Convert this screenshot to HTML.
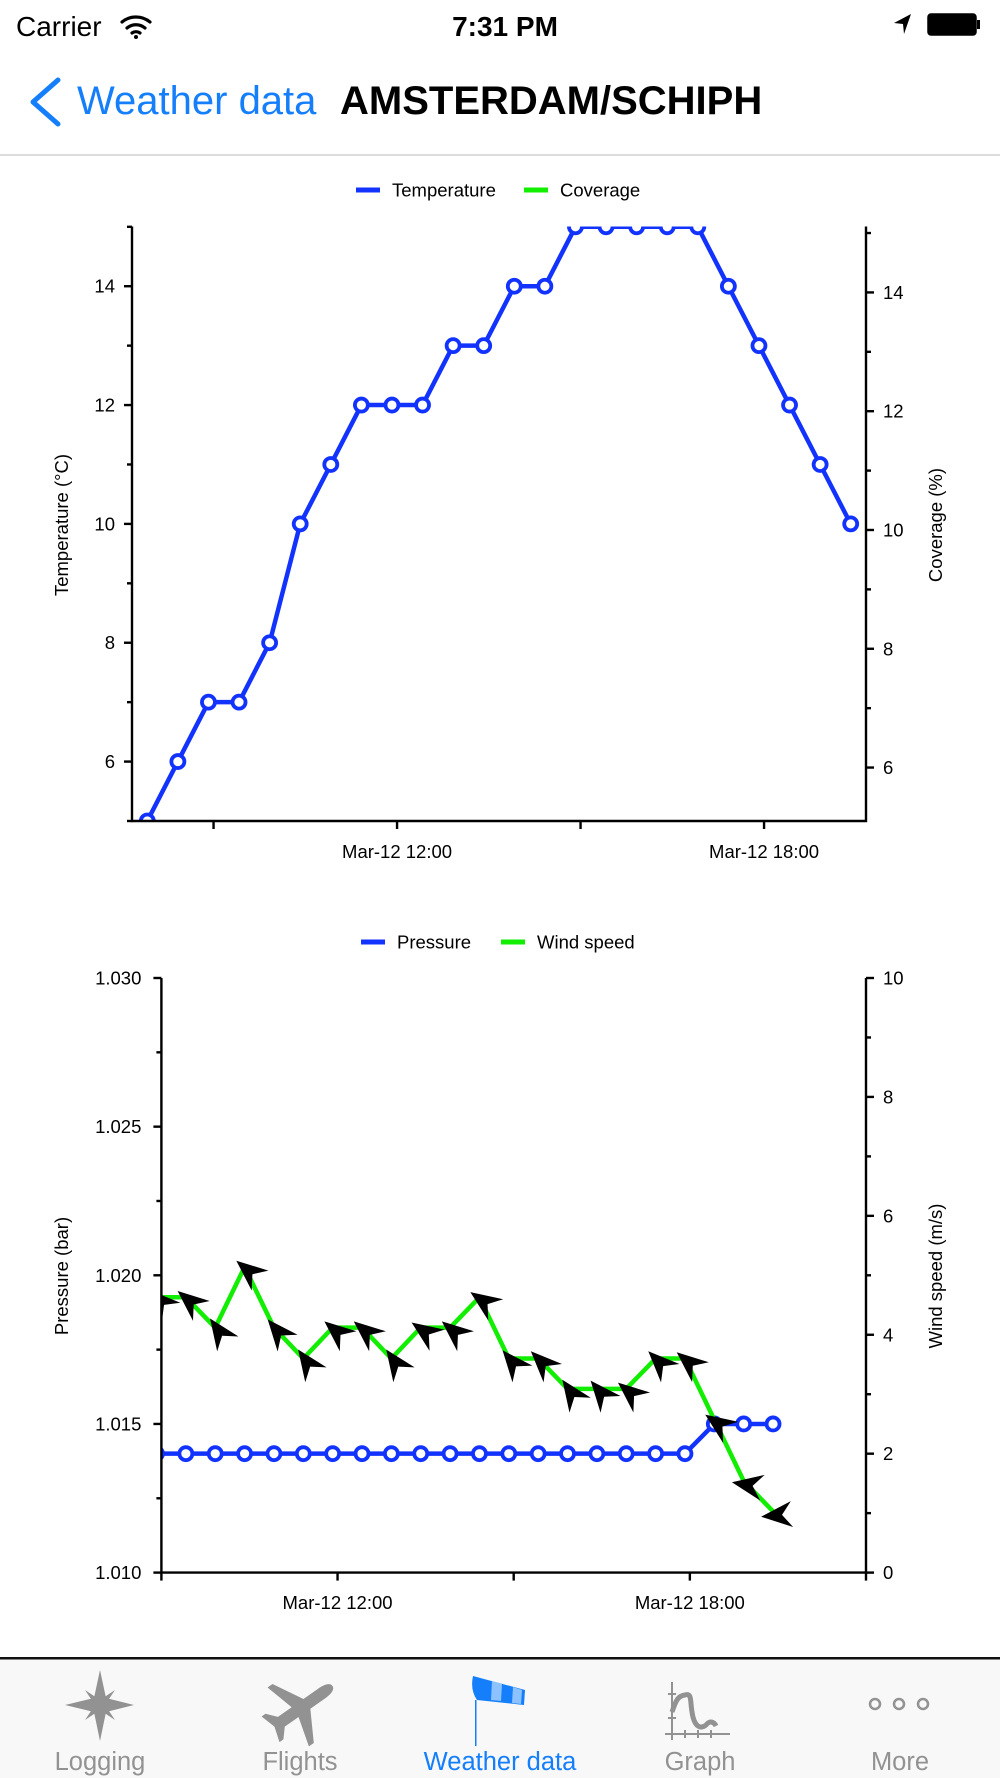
<!DOCTYPE html>
<html><head><meta charset="utf-8">
<style>
html,body{margin:0;padding:0;background:#fff;}
svg{display:block;font-family:"Liberation Sans",sans-serif;}
</style></head>
<body>
<svg id="root" width="1000" height="1778" viewBox="0 0 1000 1778" xmlns="http://www.w3.org/2000/svg">
  <!-- status bar -->
  <g>
    <text x="16" y="36" font-size="28" fill="#000">Carrier</text>
    <g fill="none" stroke="#000" stroke-width="3.2" stroke-linecap="round">
      <path d="M122 22 A22 22 0 0 1 150 22"/>
      <path d="M127 28 A14 14 0 0 1 145 28"/>
      <path d="M132 33 A7 7 0 0 1 140 33"/>
      <circle cx="136" cy="37" r="2" fill="#000" stroke="none"/>
    </g>
    <text x="505" y="36" font-size="28" font-weight="bold" text-anchor="middle" fill="#000">7:31 PM</text>
    <path d="M911 14 L894 23 L903 24 L904 34 Z" fill="#000"/>
    <g>
      <rect x="928" y="14" width="48" height="21" rx="3" fill="#000" stroke="#000" stroke-width="1.5"/>
      <rect x="977" y="20" width="3" height="9" fill="#000"/>
    </g>
  </g>
  <!-- nav bar -->
  <g>
    <path d="M58 80 L33 102 L58 124" fill="none" stroke="#147efb" stroke-width="5" stroke-linecap="round" stroke-linejoin="round"/>
    <text x="77" y="114" font-size="40" fill="#147efb">Weather data</text>
    <text x="340" y="114" font-size="40" font-weight="bold" fill="#000">AMSTERDAM/SCHIPH</text>
    <rect x="0" y="154" width="1000" height="2" fill="#dcdcdc"/>
  </g>
  <g id="chart1"></g>
  <g id="chart2"></g>
  <!-- tab bar -->
  <g>
    <rect x="0" y="1658" width="1000" height="120" fill="#f8f8f8"/>
    <rect x="0" y="1657" width="1000" height="2.5" fill="#111"/>
    <g>
      <path d="M100 1670 L106 1698 L134 1705 L106 1712 L100 1741 L94 1712 L65 1705 L94 1698 Z" fill="#929292"/>
      <path d="M85 1690 L100 1700 L115 1690 L105 1705 L115 1720 L100 1710 L85 1720 L95 1705 Z" fill="#929292"/>
      <text x="100" y="1770" font-size="25.5" text-anchor="middle" fill="#929292">Logging</text>
    </g>
    <g>
      <path d="M0 -32 C4 -32 5 -26 5 -20 L5 -6 L30 8 L30 13 L5 6 L5 20 L13 27 L13 31 L0 27 L-13 31 L-13 27 L-5 20 L-5 6 L-30 13 L-30 8 L-5 -6 L-5 -20 C-5 -26 -4 -32 0 -32 Z" fill="#929292" transform="translate(301 1708) rotate(55) scale(1.2)"/>
      <text x="300" y="1770" font-size="25.5" text-anchor="middle" fill="#929292">Flights</text>
    </g>
    <g>
      <path d="M473 1676 L525 1690 L524 1705 L477 1700 Q470 1690 473 1676 Z" fill="#147efb"/>
      <path d="M492 1681 L502 1684 L501 1701 L491 1700 Z" fill="#8cc2ff"/>
      <path d="M513 1687 L522 1690 L521 1704 L512 1703 Z" fill="#8cc2ff"/>
      <rect x="475" y="1700" width="1.5" height="46" fill="#147efb"/>
      <text x="500" y="1770" font-size="25.5" text-anchor="middle" fill="#147efb">Weather data</text>
    </g>
    <g fill="none" stroke="#929292">
      <path d="M672 1682 V1740 M665 1734 H730 M685 1730 V1738 M698 1730 V1738 M711 1730 V1738 M668 1694 H676 M668 1718 H676" stroke-width="2"/>
      <path d="M672 1712 C676 1700 678 1696 685 1695 C692 1693 690 1700 692 1712 C694 1726 700 1730 706 1725 C710 1720 714 1722 716 1726" stroke-width="5"/>
      <text x="700" y="1770" font-size="25.5" text-anchor="middle" fill="#929292" stroke="none">Graph</text>
    </g>
    <g>
      <circle cx="875" cy="1704" r="5" fill="none" stroke="#929292" stroke-width="2.5"/>
      <circle cx="899" cy="1704" r="5" fill="none" stroke="#929292" stroke-width="2.5"/>
      <circle cx="923" cy="1704" r="5" fill="none" stroke="#929292" stroke-width="2.5"/>
      <text x="900" y="1770" font-size="25.5" text-anchor="middle" fill="#929292">More</text>
    </g>
  </g>
</svg>
<script>
// ---- Chart 1 data ----
const tempTimes = ["07:55","08:25","08:55","09:25","09:55","10:25","10:55","11:25","11:55","12:25","12:55","13:25","13:55","14:25","14:55","15:25","15:55","16:25","16:55","17:25","17:55","18:25","18:55","19:25"];
const tempValues = [5,6,7,7,8,10,11,12,12,12,13,13,14,14,15,15,15,15,15,14,13,12,11,10];
const coverageValues = [];
const tempTickLabels = ["6","8","10","12","14"];
const coverageTickLabels = ["6","8","10","12","14"];
const chart1XTicks = ["09:00","12:00","15:00","18:00"];
const chart1XLabels = ["","Mar-12 12:00","","Mar-12 18:00"];
// ---- Chart 2 data ----
const windTimes = ["08:55","09:25","09:55","10:25","10:55","11:25","11:55","12:25","12:55","13:25","13:55","14:25","14:55","15:25","15:55","16:25","16:55","17:25","17:55","18:25","18:55","19:25"];
const pressureValues = [1.014,1.014,1.014,1.014,1.014,1.014,1.014,1.014,1.014,1.014,1.014,1.014,1.014,1.014,1.014,1.014,1.014,1.014,1.014,1.015,1.015,1.015];
const windSpeedValues = [4.63,4.63,4.12,5.14,4.12,3.60,4.12,4.12,3.60,4.12,4.12,4.63,3.60,3.60,3.09,3.09,3.09,3.60,3.60,2.57,1.54,1.03];
const windDirValues = [225,220,235,220,230,235,220,220,235,215,220,215,230,225,235,230,220,225,220,215,190,175];
const pressureTickLabels = ["1.010","1.015","1.020","1.025","1.030"];
const windTickLabels = ["0","2","4","6","8","10"];
const chart2XTicks = ["09:00","12:00","15:00","18:00","21:00"];
const chart2XLabels = ["","Mar-12 12:00","","Mar-12 18:00",""];

const NS = "http://www.w3.org/2000/svg";
const BLUE = "#1233ff", GREEN = "#11ee00";
function mk(tag, attrs, parent){ const e=document.createElementNS(NS,tag); for(const k in attrs) e.setAttribute(k,attrs[k]); if(parent) parent.appendChild(e); return e; }
function hrs(s){ const p=s.split(":"); return +p[0]+(+p[1])/60; }
function lin(d0,d1,r0,r1){ return v=>r0+(v-d0)*(r1-r0)/(d1-d0); }
const FS = 18.5;

function legend(g, x1, name1, c1, x2, name2, c2, y){
  const a=mk("g",{},g);
  
  
  mk("rect",{x:x1,y:y-2.5,width:24,height:5,fill:c1},a);
  mk("text",{x:x1+36,y:y+6.5,"font-size":FS,fill:"#000"},a).textContent=name1;
  const b=mk("g",{},g);
  
  
  mk("rect",{x:x2,y:y-2.5,width:24,height:5,fill:c2},b);
  mk("text",{x:x2+36,y:y+6.5,"font-size":FS,fill:"#000"},b).textContent=name2;
}
function vtitle(g, x, y, txt, name){
  const t=mk("text",{x:x,y:y,"font-size":FS,"text-anchor":"middle",transform:`rotate(-90 ${x} ${y})`,fill:"#000"},g);
  
  
  t.textContent=txt;
}

// ---------- Chart 1 ----------
(function(){
  const g=document.getElementById("chart1");
  const L=132,R=866,T=226.5,B=821;
  const x=lin(7+40/60,19+40/60,L,R);
  const yT=lin(5,15,B,T+0.3);
  const yC=lin(5.10,15.11,B,T);
  legend(g,356,"Temperature",BLUE,524,"Coverage",GREEN,190);
  const clip=mk("clipPath",{id:"c1"},g); mk("rect",{x:L,y:T,width:R-L,height:B-T},clip);
  const plot=mk("g",{"clip-path":"url(#c1)"},g);
  
  
  const pts=tempTimes.map((t,i)=>[x(hrs(t)),yT(tempValues[i])]);
  const line=mk("polyline",{points:pts.map(p=>p.join(",")).join(" "),fill:"none",stroke:BLUE,"stroke-width":4.5,"stroke-linejoin":"round"},plot);
  
  
  pts.forEach(p=>{
    const c=mk("circle",{cx:p[0],cy:p[1],r:6.5,fill:"#fff",stroke:BLUE,"stroke-width":3.8},plot);
    
    
  });
  const ax=mk("g",{stroke:"#000","stroke-width":2.4,fill:"none"},g);
  
  
  mk("path",{d:`M${L} ${T} V${B} H${R} V${T}`},ax);
  for(let v=5;v<=15;v++){ const yy=yT(v); mk("path",{d:`M${L} ${yy} h${v%2===0?-8:-5}`},ax); }
  for(let v=6;v<=15;v++){ const yy=yC(v); mk("path",{d:`M${R} ${yy} h${v%2===0?8:5}`},ax); }
  tempTickLabels.forEach(s=>{
    const t=mk("text",{x:L-17,y:yT(+s)+6.5,"font-size":FS,"text-anchor":"end",fill:"#000"},g);
    
    
    t.textContent=s;
  });
  coverageTickLabels.forEach(s=>{
    const t=mk("text",{x:R+17,y:yC(+s)+6.5,"font-size":FS,fill:"#000"},g);
    
    
    t.textContent=s;
  });
  chart1XTicks.forEach((s,i)=>{
    const xx=x(hrs(s)); mk("path",{d:`M${xx} ${B} v8`},ax);
    if(chart1XLabels[i]){ const t=mk("text",{x:xx,y:858,"font-size":FS,"text-anchor":"middle",fill:"#000"},g);
      
      
      t.textContent=chart1XLabels[i]; }
  });
  vtitle(g,68,525,"Temperature (°C)","y-axis-title-left");
  vtitle(g,942,525,"Coverage (%)","y-axis-title-right");
})();

// ---------- Chart 2 ----------
(function(){
  const g=document.getElementById("chart2");
  const L=161.4,R=866,T=978,B=1572.6;
  const x=lin(9,21,L,R);
  const yP=lin(1.010,1.030,B,T);
  const yW=lin(0,10,B,T);
  legend(g,361,"Pressure",BLUE,501,"Wind speed",GREEN,942);
  const clip=mk("clipPath",{id:"c2"},g); mk("rect",{x:L,y:T,width:R-L,height:B-T},clip);
  const plot=mk("g",{"clip-path":"url(#c2)"},g);
  const pp=windTimes.map((t,i)=>[x(hrs(t)),yP(pressureValues[i])]);
  const pl=mk("polyline",{points:pp.map(p=>p.join(",")).join(" "),fill:"none",stroke:BLUE,"stroke-width":4.5,"stroke-linejoin":"round"},plot);
  
  
  pp.forEach(p=>{
    const c=mk("circle",{cx:p[0],cy:p[1],r:6.5,fill:"#fff",stroke:BLUE,"stroke-width":3.8},plot);
    
    
  });
  const wp=windTimes.map((t,i)=>[x(hrs(t)),yW(windSpeedValues[i])]);
  const wl=mk("polyline",{points:wp.map(p=>p.join(",")).join(" "),fill:"none",stroke:GREEN,"stroke-width":4.5,"stroke-linejoin":"round"},plot);
  
  
  wp.forEach((p,i)=>{
    const ang=windDirValues[i]-180;
    const a=mk("path",{d:"M-16 0 L15 -13 L5 0 L15 13 Z",fill:"#000",transform:`translate(${p[0]+4} ${p[1]+4}) rotate(${ang})`},plot);
    
    
  });
  const ax=mk("g",{stroke:"#000","stroke-width":2.4,fill:"none"},g);
  
  
  mk("path",{d:`M${L} ${T} V${B} H${R} V${T}`},ax);
  for(let k=0;k<=8;k++){ const v=1.010+k*0.0025; mk("path",{d:`M${L} ${yP(v)} h${k%2===0?-8:-5}`},ax); }
  for(let v=0;v<=10;v++){ mk("path",{d:`M${R} ${yW(v)} h${v%2===0?8:5}`},ax); }
  pressureTickLabels.forEach(s=>{
    const t=mk("text",{x:L-20,y:yP(+s)+6.5,"font-size":FS,"text-anchor":"end",fill:"#000"},g);
    
    
    t.textContent=s;
  });
  windTickLabels.forEach(s=>{
    const t=mk("text",{x:R+17,y:yW(+s)+6.5,"font-size":FS,fill:"#000"},g);
    
    
    t.textContent=s;
  });
  chart2XTicks.forEach((s,i)=>{
    const xx=x(hrs(s)); mk("path",{d:`M${xx} ${B} v8`},ax);
    if(chart2XLabels[i]){ const t=mk("text",{x:xx,y:1609,"font-size":FS,"text-anchor":"middle",fill:"#000"},g);
      
      
      t.textContent=chart2XLabels[i]; }
  });
  vtitle(g,68,1276,"Pressure (bar)","y-axis-title-left");
  vtitle(g,942,1276,"Wind speed (m/s)","y-axis-title-right");
})();
</script>
</body></html>
